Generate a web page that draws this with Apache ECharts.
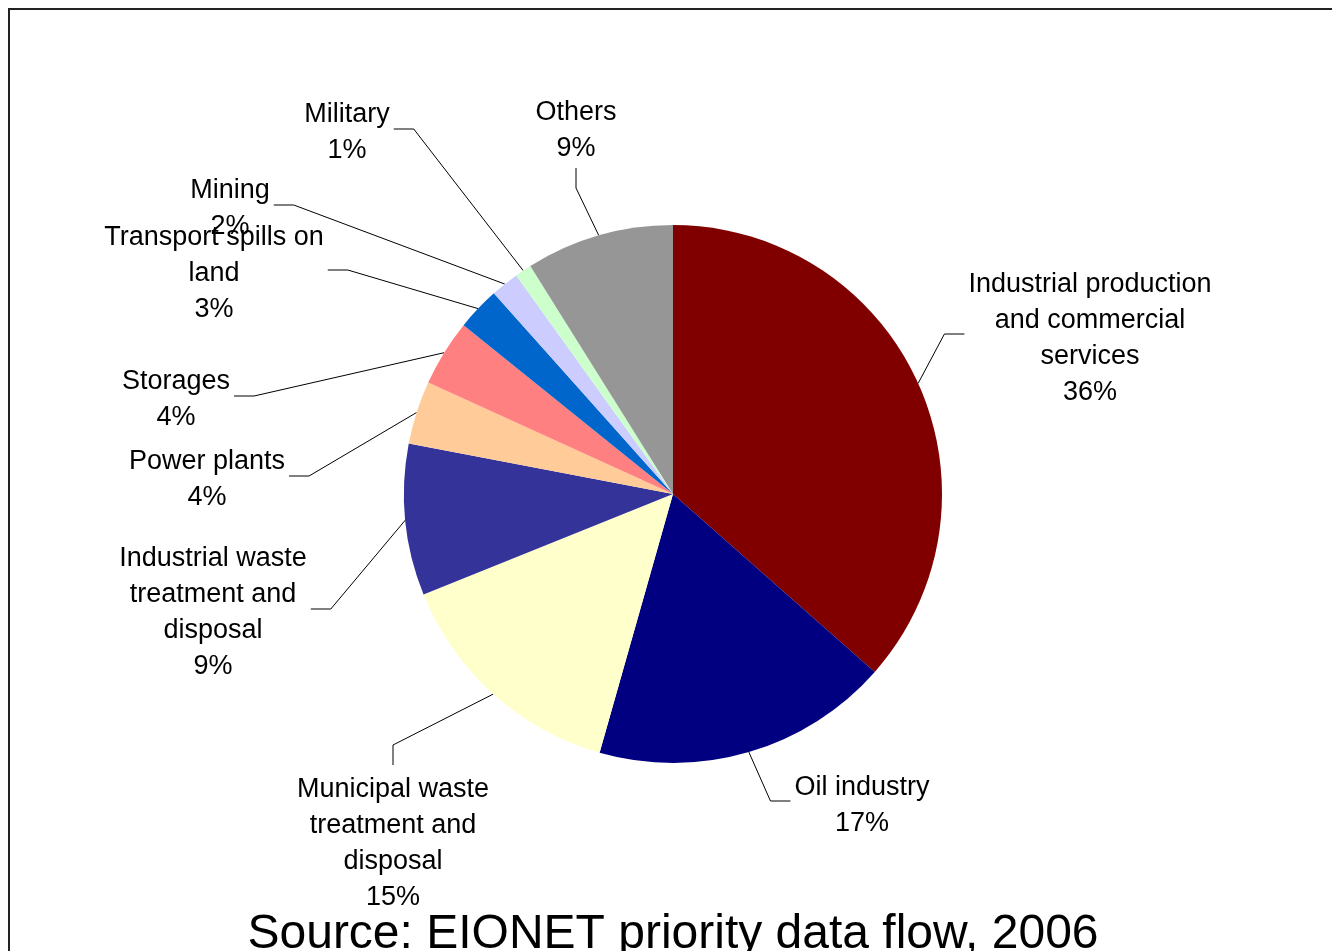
<!DOCTYPE html>
<html>
<head>
<meta charset="utf-8">
<script src="https://cdn.jsdelivr.net/npm/echarts@6/dist/echarts.min.js"></script>
<style>
html,body{margin:0;padding:0;background:#fff;}
#c{width:1332px;height:951px;}
</style>
</head>
<body>
<div id="c"></div>
<script>
// Data
const categories = [
  'Industrial production\nand commercial\nservices',
  'Oil industry',
  'Municipal waste\ntreatment and\ndisposal',
  'Industrial waste\ntreatment and\ndisposal',
  'Power plants',
  'Storages',
  'Transport spills on\nland',
  'Mining',
  'Military',
  'Others'
];
// slice sizes
const values = [36.5, 17.9, 14.5, 9.1, 3.8, 4.0, 2.6, 1.7, 1.0, 8.9];
// percentage labels as printed on the picture
const percentLabels = ['36%', '17%', '15%', '9%', '4%', '4%', '3%', '2%', '1%', '9%'];
const colors = ['#800000', '#000080', '#FFFFCC', '#333399', '#FFCC99', '#FF8080', '#0066CC', '#CCCCFF', '#CCFFCC', '#969696'];
const sourceText = 'Source: EIONET priority data flow, 2006';

// Label layout (positions of label blocks, side where leader line attaches)
const labelPos = [
  [1090, 336, 'left'],
  [862, 803, 'left'],
  [393, 841, 'top'],
  [213, 610, 'right'],
  [207, 477, 'right'],
  [176, 397, 'right'],
  [214, 271, 'right'],
  [230, 206, 'right'],
  [347, 130, 'right'],
  [576, 128, 'bottom']
];

const chart = echarts.init(document.getElementById('c'), null, {renderer: 'canvas'});
const FONT = "'Liberation Sans', Arial, sans-serif";

chart.setOption({
  backgroundColor: '#ffffff',
  animation: false,
  graphic: [
    {
      type: 'rect',
      shape: {x: 9, y: 9, width: 1400, height: 1000},
      style: {fill: 'none', stroke: '#222', lineWidth: 2},
      z: 100
    },
    {
      type: 'text',
      x: 673,
      y: 935,
      style: {
        text: sourceText,
        font: "48px 'Liberation Sans', Arial, sans-serif",
        fill: '#000',
        align: 'center',
        verticalAlign: 'middle'
      },
      z: 101
    }
  ],
  series: [{
    type: 'pie',
    center: [673, 494],
    radius: 269,
    startAngle: 90,
    clockwise: true,
    avoidLabelOverlap: false,
    emphasis: {disabled: true, scale: false},
    itemStyle: {borderWidth: 0},
    label: {
      show: true,
      position: 'outside',
      color: '#000',
      fontFamily: FONT,
      fontSize: 27,
      lineHeight: 36,
      align: 'center',
      formatter: p => p.name + '\n' + percentLabels[p.dataIndex]
    },
    labelLine: {
      show: true,
      length: 20,
      length2: 20,
      lineStyle: {color: '#000', width: 1}
    },
    labelLayout: function (params) {
      const i = params.dataIndex;
      const pos = labelPos[i];
      const w = params.labelRect.width;
      const h = params.labelRect.height;
      const cx = pos[0], cy = pos[1];
      const gap = 4, el = 20;
      let end, elbow;
      if (pos[2] === 'left') {
        end = [cx - w / 2 - gap, cy - 2];
        elbow = [end[0] - el, end[1]];
      } else if (pos[2] === 'right') {
        end = [cx + w / 2 + gap, cy - 1];
        elbow = [end[0] + el, end[1]];
      } else if (pos[2] === 'top') {
        end = [cx, cy - h / 2 - gap];
        elbow = [cx, end[1] - el];
      } else {
        end = [cx, cy + h / 2 + gap];
        elbow = [cx, end[1] + el];
      }
      const start = params.labelLinePoints ? params.labelLinePoints[0] : elbow;
      return {
        x: cx,
        y: cy + 3,
        align: 'center',
        verticalAlign: 'middle',
        labelLinePoints: [start, elbow, end]
      };
    },
    data: categories.map((c, i) => ({
      name: c,
      value: values[i],
      itemStyle: {color: colors[i]}
    }))
  }]
});
</script>
</body>
</html>
